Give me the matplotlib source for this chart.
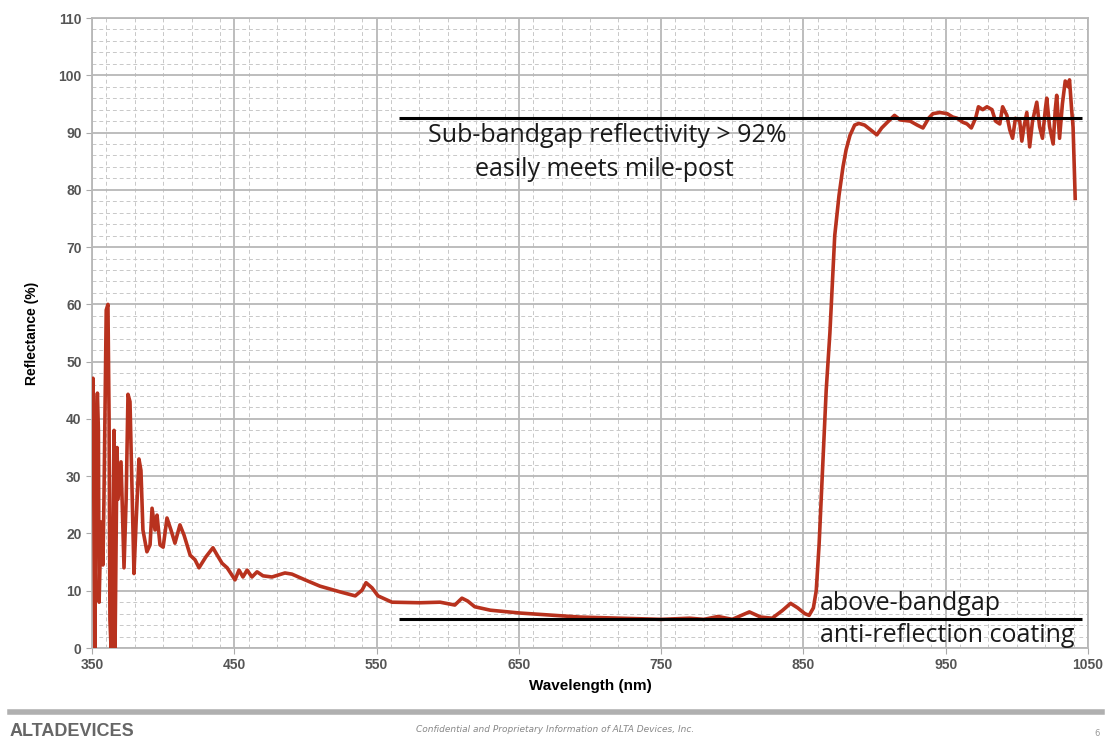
import matplotlib
matplotlib.use("Agg")
import matplotlib.pyplot as plt
from matplotlib.ticker import MultipleLocator

# ---- data ----
wavelength_nm = [
    350.0, 350.7, 352.0, 352.8, 353.8, 354.5, 355.0, 356.3, 357.7, 358.4, 360.0,
    361.2, 362.0, 362.6, 363.4, 364.8, 365.5, 366.2, 367.6, 368.3, 370.4, 372.5,
    374.0, 375.3, 376.7, 378.0, 379.5, 381.0, 383.0, 384.4, 385.8, 388.6, 390.8,
    392.2, 394.3, 395.7, 397.8, 400.0, 402.7, 405.5, 408.3, 411.8, 414.7, 419.0,
    422.4, 425.2, 430.0, 435.0, 438.5, 441.4, 445.0, 448.4, 450.5, 453.3, 456.1,
    459.0, 462.4, 466.0, 470.2, 476.5, 485.6, 490.5, 499.7, 510.2, 524.3, 535.0,
    539.8, 542.6, 546.8, 551.0, 560.8, 580.5, 594.6, 605.0, 610.0, 614.0, 619.0,
    630.0, 651.0, 693.0, 735.0, 750.0, 770.0, 780.0, 790.0, 800.0, 812.0, 820.0,
    828.0, 835.0, 841.0, 846.0, 851.0, 854.0, 857.0, 859.0, 861.0, 863.8, 866.0,
    868.6, 872.0, 875.0, 877.8, 880.0, 882.7, 886.0, 889.0, 893.0, 897.0, 901.6,
    905.0, 909.0, 914.0, 918.0, 925.0, 930.0, 934.0, 938.0, 941.0, 946.0, 951.0,
    955.0, 958.0, 962.0, 965.0, 968.0, 971.0, 973.0, 976.0, 979.0, 982.5, 985.0,
    988.0, 990.0, 993.0, 995.0, 997.0, 999.0, 1002.0, 1003.5, 1005.0, 1007.0,
    1009.0, 1011.0, 1014.0, 1016.0, 1018.0, 1020.0, 1021.0, 1023.0, 1025.5,
    1027.0, 1028.0, 1030.0, 1032.0, 1034.0, 1036.0, 1037.0, 1038.5, 1039.5, 1041.0,
]
reflectance_pct = [
    40.0, 47.1, 0.0, 39.0, 44.5, 38.0, 8.0, 22.0, 14.5, 26.0, 59.0,
    60.0, 40.0, 5.0, 0.0, 22.0, 38.0, 0.0, 35.0, 26.0, 32.5, 14.0,
    26.0, 44.3, 43.0, 29.0, 13.0, 22.0, 33.0, 31.0, 20.6, 16.8, 18.0,
    24.4, 20.6, 23.2, 18.0, 17.6, 22.7, 20.6, 18.3, 21.5, 19.7, 16.2,
    15.4, 14.0, 15.9, 17.5, 16.0, 14.8, 14.0, 12.7, 11.9, 13.6, 12.4,
    13.6, 12.4, 13.3, 12.6, 12.4, 13.1, 12.9, 11.9, 10.8, 9.8, 9.1,
    10.1, 11.4, 10.5, 9.1, 8.0, 7.9, 8.0, 7.5, 8.7, 8.2, 7.2,
    6.6, 6.1, 5.4, 5.1, 5.0, 5.2, 5.0, 5.5, 5.0, 6.3, 5.4,
    5.2, 6.5, 7.8, 7.0, 6.0, 5.7, 7.0, 10.0, 18.0, 33.0, 45.0,
    55.0, 72.0, 79.0, 84.0, 87.0, 89.5, 91.3, 91.6, 91.3, 90.5, 89.6,
    90.8, 91.8, 93.0, 92.2, 92.0, 91.3, 90.8, 92.5, 93.3, 93.5, 93.3,
    92.7, 92.5, 91.8, 91.5, 90.8, 92.5, 94.5, 94.0, 94.5, 94.0, 92.0,
    91.5, 94.5, 93.0, 90.5, 89.0, 92.5, 92.0, 88.5, 91.0, 93.5,
    87.5, 92.0, 95.3, 91.0, 89.0, 94.0, 96.0, 91.0, 88.0,
    94.0, 96.5, 89.0, 95.0, 99.0, 98.0, 99.2, 94.0, 91.0, 78.5,
]

upper_level = 92.5
lower_level = 5.0
level_span_nm = [566, 1046]

x_ticks = [350, 450, 550, 650, 750, 850, 950, 1050]
y_ticks = [0, 10, 20, 30, 40, 50, 60, 70, 80, 90, 100, 110]

# ---- figure ----
fig = plt.figure(figsize=(11.06, 7.44), dpi=100)
ax = fig.add_axes([92 / 1106, (744 - 648) / 744, (1088 - 92) / 1106, (648 - 18) / 744])

ax.set_xlim(350, 1050)
ax.set_ylim(0, 110)
ax.set_xticks(x_ticks)
ax.set_yticks(y_ticks)
ax.xaxis.set_minor_locator(MultipleLocator(20))
ax.yaxis.set_minor_locator(MultipleLocator(2))

ax.grid(which="major", color="#b8b8b8", linewidth=1.3, linestyle="-", zorder=0)
ax.grid(which="minor", color="#c8c8c8", linewidth=0.7, linestyle=(0, (4, 3)), zorder=0)
ax.set_axisbelow(True)
for s in ax.spines.values():
    s.set_color("#b8b8b8")
    s.set_linewidth(1.3)

ax.tick_params(which="major", axis="both", length=4, color="#aaaaaa",
               labelsize=10, labelcolor="#555555")
ax.tick_params(which="minor", length=0)
for lbl in ax.get_xticklabels() + ax.get_yticklabels():
    lbl.set_fontfamily("Liberation Sans")
    lbl.set_fontweight("bold")

ax.plot(wavelength_nm, reflectance_pct, color="#b8321e", linewidth=2.6,
        solid_joinstyle="round", zorder=3)

ax.hlines([upper_level, lower_level], level_span_nm[0], level_span_nm[1],
          colors="black", linewidth=2.2, zorder=4)

ax.set_xlabel("Wavelength (nm)", fontsize=11, fontweight="bold",
              fontfamily="Liberation Sans", labelpad=5)
ax.set_ylabel("Reflectance (%)", fontsize=10, fontweight="bold",
              fontfamily="Liberation Sans", labelpad=14)

txt_kw = dict(fontsize=18, fontfamily="Open Sans", color="#1a1a1a", zorder=5)
fig.text(607 / 1106, 1 - 135 / 744, "Sub-bandgap reflectivity > 92%",
         ha="center", va="center", **txt_kw)
fig.text(604 / 1106, 1 - 170 / 744, "easily meets mile-post",
         ha="center", va="center", **txt_kw)
fig.text(820 / 1106, 1 - 603 / 744, "above-bandgap",
         ha="left", va="center", **txt_kw)
fig.text(820 / 1106, 1 - 636 / 744, "anti-reflection coating",
         ha="left", va="center", **txt_kw)

# ---- footer ----
fig.add_artist(plt.Line2D([10 / 1106, 1102 / 1106], [1 - 712 / 744, 1 - 712 / 744],
                          color="#b0b0b0", linewidth=4))
fig.text(10 / 1106, 1 - 732 / 744, "ALTADEVICES", fontsize=13, fontweight="bold",
         fontfamily="Liberation Sans", color="#666666", ha="left", va="center")
fig.text(555 / 1106, 1 - 730 / 744,
         "Confidential and Proprietary Information of ALTA Devices, Inc.",
         fontsize=6.5, fontstyle="italic", color="#888888", ha="center", va="center")
fig.text(1097 / 1106, 1 - 733 / 744, "6", fontsize=6, color="#999999",
         ha="center", va="center")

fig.savefig("out.png", dpi=100)
